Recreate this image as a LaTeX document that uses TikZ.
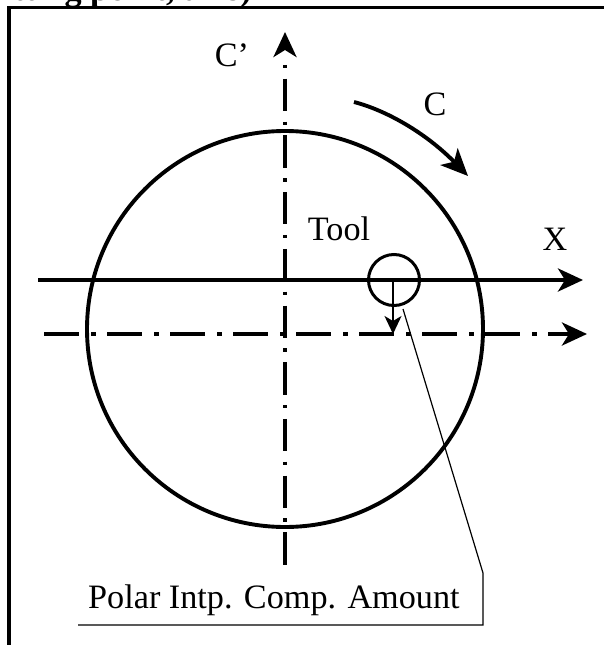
\documentclass[tikz,border=0pt]{standalone}
\usepackage{fontspec}
\setmainfont{Liberation Serif}
\usetikzlibrary{arrows.meta}
\tikzset{
  x=1pt,y=-1pt,
  lab/.style={inner sep=0pt,font=\fontsize{34.2}{34}\selectfont},
  thick line/.style={line width=3.9pt},
  center line/.style={line width=3.9pt,dash pattern=on 35pt off 12pt on 5pt off 11pt},
  vert line/.style={line width=3.9pt,dash pattern=on 3.4pt off 10.5pt on 32.3pt off 10.5pt},
  head/.style={-{Stealth[length=25pt,width=23pt,inset=7pt]}},
  thin line/.style={line width=1.2pt}
}
\begin{document}
\begin{tikzpicture}
\useasboundingbox (0,0) rectangle (604,645);
\clip (0,0) rectangle (604,645);
% frame
\draw[line width=3.4pt] (9,645) -- (9,7.5) -- (604,7.5);
\node[inner sep=0pt,anchor=base west,font=\bfseries\fontsize{34.2}{34}\selectfont] (cut) at (13,1) {tting point, axis)};
% circle
\coordinate (cc) at (285,329);
\node[circle,draw,line width=3.9pt,minimum size=396pt,inner sep=0pt] (disc) at (cc) {};
% C' axis
\coordinate (ybot) at (285,565);
\coordinate (ytop) at (285,32);
\coordinate (ydot) at (285,64.8);
\draw[vert line] (ydot) -- (ybot);
\draw[head,line width=3.9pt] (285,50) -- (ytop);
% X axis
\coordinate (xl) at (38,280);
\coordinate (xr) at (583,280);
\draw[thick line,head] (xl) -- (xr);
% offset axis
\coordinate (ol) at (44,334);
\coordinate (or) at (587,334);
\draw[center line,head] (ol) -- (or);
% tool
\node[circle,draw,line width=3pt,minimum size=51pt,inner sep=0pt] (tool) at (394,280) {};
\coordinate (a1) at (393,280);
\coordinate (a2) at (393,334);
\draw[line width=1.5pt,-{Stealth[length=18pt,width=17pt,inset=5pt]}] (a1) -- (a2);
% C arrow
\coordinate (c1) at (354,102);
\coordinate (c2) at (468,176);
\draw[line width=3.9pt,-{Stealth[length=27pt,width=24pt,inset=7pt]}] (c1) .. controls (385,110) and (425,132) .. (c2);
% leader
\coordinate (l1) at (403,309);
\coordinate (l2) at (483,573);
\coordinate (l3) at (483,625);
\coordinate (l4) at (78,625);
\draw[thin line] (l1) -- (l2) -- (l3) -- (l4);
% labels
\node[lab] (lc) at (232,55) {C’};
\node[lab] (lC) at (435,104) {C};
\node[lab] (lt) at (339,229) {Tool};
\node[lab] (lx) at (555,239) {X};
\node[lab,anchor=base west] (lp) at (88,608) {Polar Intp. Comp. Amount};
\end{tikzpicture}
\end{document}
